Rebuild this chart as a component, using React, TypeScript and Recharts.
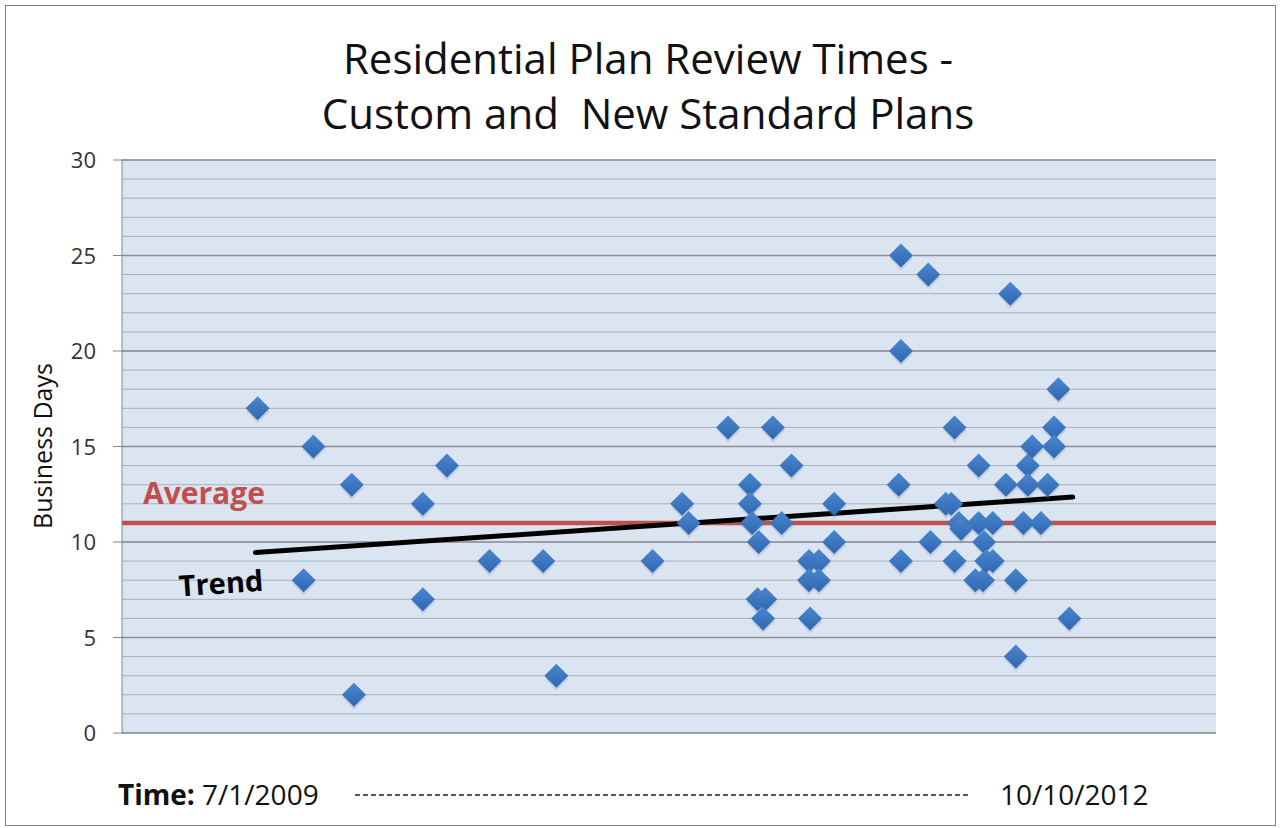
import { ScatterChart, Scatter, XAxis, YAxis, CartesianGrid, ReferenceLine, ReferenceDot } from 'recharts'

// position along the time axis (0 = left edge of plot, 100 = right edge)
const timePos = [
  12.4, 16.6, 17.5, 21.0, 21.2, 27.5, 27.5, 29.7, 33.6, 38.5, 39.7, 48.5, 51.2, 51.8, 55.4,
  57.4, 57.4, 57.6, 58.2, 58.1, 58.8, 58.6, 59.5, 60.3, 61.2, 62.8, 63.7, 62.8, 63.7, 62.9,
  65.1, 65.1, 71.0, 71.2, 71.2, 71.2, 73.7, 73.9, 75.3, 75.8, 76.1, 76.1, 76.5, 76.7, 78.0,
  78.3, 78.3, 78.7, 78.8, 79.0, 79.6, 79.6, 80.8, 81.2, 81.7, 81.7, 82.4, 82.8, 82.8, 83.2,
  84.0, 84.6, 85.2, 85.2, 85.6, 86.6,
]
const businessDays = [
  17, 8, 15, 13, 2, 12, 7, 14, 9, 9, 3, 9, 12, 11, 16,
  13, 12, 11, 10, 7, 7, 6, 16, 11, 14, 9, 9, 8, 8, 6,
  12, 10, 13, 25, 20, 9, 24, 10, 12, 12, 16, 9, 11, 10.7, 8,
  14, 11, 8, 10, 9, 11, 9, 13, 23, 8, 4, 11, 14, 13, 15,
  11, 13, 16, 15, 18, 6,
]
const yTicks = Array.from({ length: 31 }, (_, i) => i)
const majorTicks = [0, 5, 10, 15, 20, 25, 30]
const average = 11
const trendStart = { x: 12.2, y: 9.45 }
const trendEnd = { x: 86.9, y: 12.35 }

const points = timePos.map((x, i) => ({ x, y: businessDays[i] }))

const FONT = '"Open Sans", Lato, sans-serif'

function Diamond(props: any) {
  const { cx, cy } = props
  const r = 12
  return (
    <g>
      <polygon points={`${cx},${cy - r + 3} ${cx + r},${cy + 3} ${cx},${cy + r + 3} ${cx - r + 1},${cy + 3}`} fill="#6f7f99" opacity={0.22} />
      <polygon points={`${cx},${cy - r} ${cx + r},${cy} ${cx},${cy + r} ${cx - r},${cy}`} fill="url(#dia)" />
    </g>
  )
}

function YTick({ x, y, payload }: any) {
  if (payload.value % 5 !== 0) return null
  return (
    <g>
      <line x1={x - 1} x2={x + 10} y1={y} y2={y} stroke="#868686" />
      <text x={x - 18} y={y + 8} textAnchor="end" fontSize={22} fontFamily={FONT} fill="#333">
        {payload.value}
      </text>
    </g>
  )
}

export default function App() {
  return (
    <div style={{ position: 'absolute', left: 0, top: 0, width: 1282, height: 828, background: '#fff', fontFamily: FONT, fontVariantLigatures: 'none', overflow: 'hidden' }}>
      <div style={{ position: 'absolute', left: 5, top: 5, width: 1269, height: 819, border: '1px solid #7f7f7f' }} />
      <div style={{ position: 'absolute', left: 0, top: 30, width: 1296, textAlign: 'center', fontSize: 42, lineHeight: '55px', color: '#111' }}>
        Residential Plan Review Times -<br />Custom and&nbsp; New Standard Plans
      </div>
      <div style={{ position: 'absolute', left: 42, top: 446, transform: 'translate(-50%, -50%) rotate(-90deg)', fontSize: 25, whiteSpace: 'nowrap', color: '#111' }}>
        Business Days
      </div>
      <div style={{ position: 'absolute', left: 0, top: 0 }}>
        <ScatterChart width={1282} height={828} margin={{ top: 160, right: 66, bottom: 95, left: 0 }}>
          <defs>
            <linearGradient id="dia" x1="0" y1="0" x2="0" y2="1">
              <stop offset="0%" stopColor="#4a86d0" />
              <stop offset="100%" stopColor="#2f67b0" />
            </linearGradient>
          </defs>
          <CartesianGrid vertical={false} fill="#dbe5f1" stroke="#a9b0b8" strokeWidth={1} />
          <XAxis type="number" dataKey="x" domain={[0, 100]} hide />
          <YAxis
            type="number"
            dataKey="y"
            domain={[0, 30]}
            ticks={yTicks}
            interval={0}
            width={122}
            tick={<YTick />}
            tickLine={false}
            axisLine={{ stroke: '#868686' }}
          />
          {majorTicks.map((t) => (
            <ReferenceLine key={t} y={t} stroke="#8a9099" strokeWidth={1.5} />
          ))}
          <ReferenceLine
            y={average}
            stroke="#c0504d"
            strokeWidth={4.5}
            label={(p: any) => (
              <text x={p.viewBox.x + 21} y={p.viewBox.y - 19} fontSize={30} fontWeight="bold" fontFamily={FONT} fill="#c0504d">
                Average
              </text>
            )}
          />
          <ReferenceLine segment={[trendStart, trendEnd]} stroke="#000" strokeWidth={5} strokeLinecap="round" />
          <ReferenceDot
            x={trendStart.x}
            y={trendStart.y}
            r={1}
            fillOpacity={0}
            strokeOpacity={0}
            label={(p: any) => {
              const lx = p.viewBox.x - 75
              const ly = p.viewBox.y + 45
              return (
                <text x={lx} y={ly} fontSize={29} fontWeight="bold" fontFamily={FONT} fill="#000" transform={`rotate(-4 ${lx} ${ly})`}>
                  Trend
                </text>
              )
            }}
          />
          <Scatter data={points} shape={<Diamond />} isAnimationActive={false} />
        </ScatterChart>
      </div>
      <div style={{ position: 'absolute', left: 118, top: 774, fontSize: 28, color: '#111', whiteSpace: 'nowrap', lineHeight: '40px' }}>
        <b>Time:</b> 7/1/2009
      </div>
      <svg style={{ position: 'absolute', left: 355, top: 793 }} width={616} height={4}>
        <line x1={0} x2={616} y1={2} y2={2} stroke="#222" strokeWidth={1.3} strokeDasharray="5 3" />
      </svg>
      <div style={{ position: 'absolute', left: 1000, top: 774, fontSize: 28, color: '#111', lineHeight: '40px' }}>10/10/2012</div>
    </div>
  )
}
